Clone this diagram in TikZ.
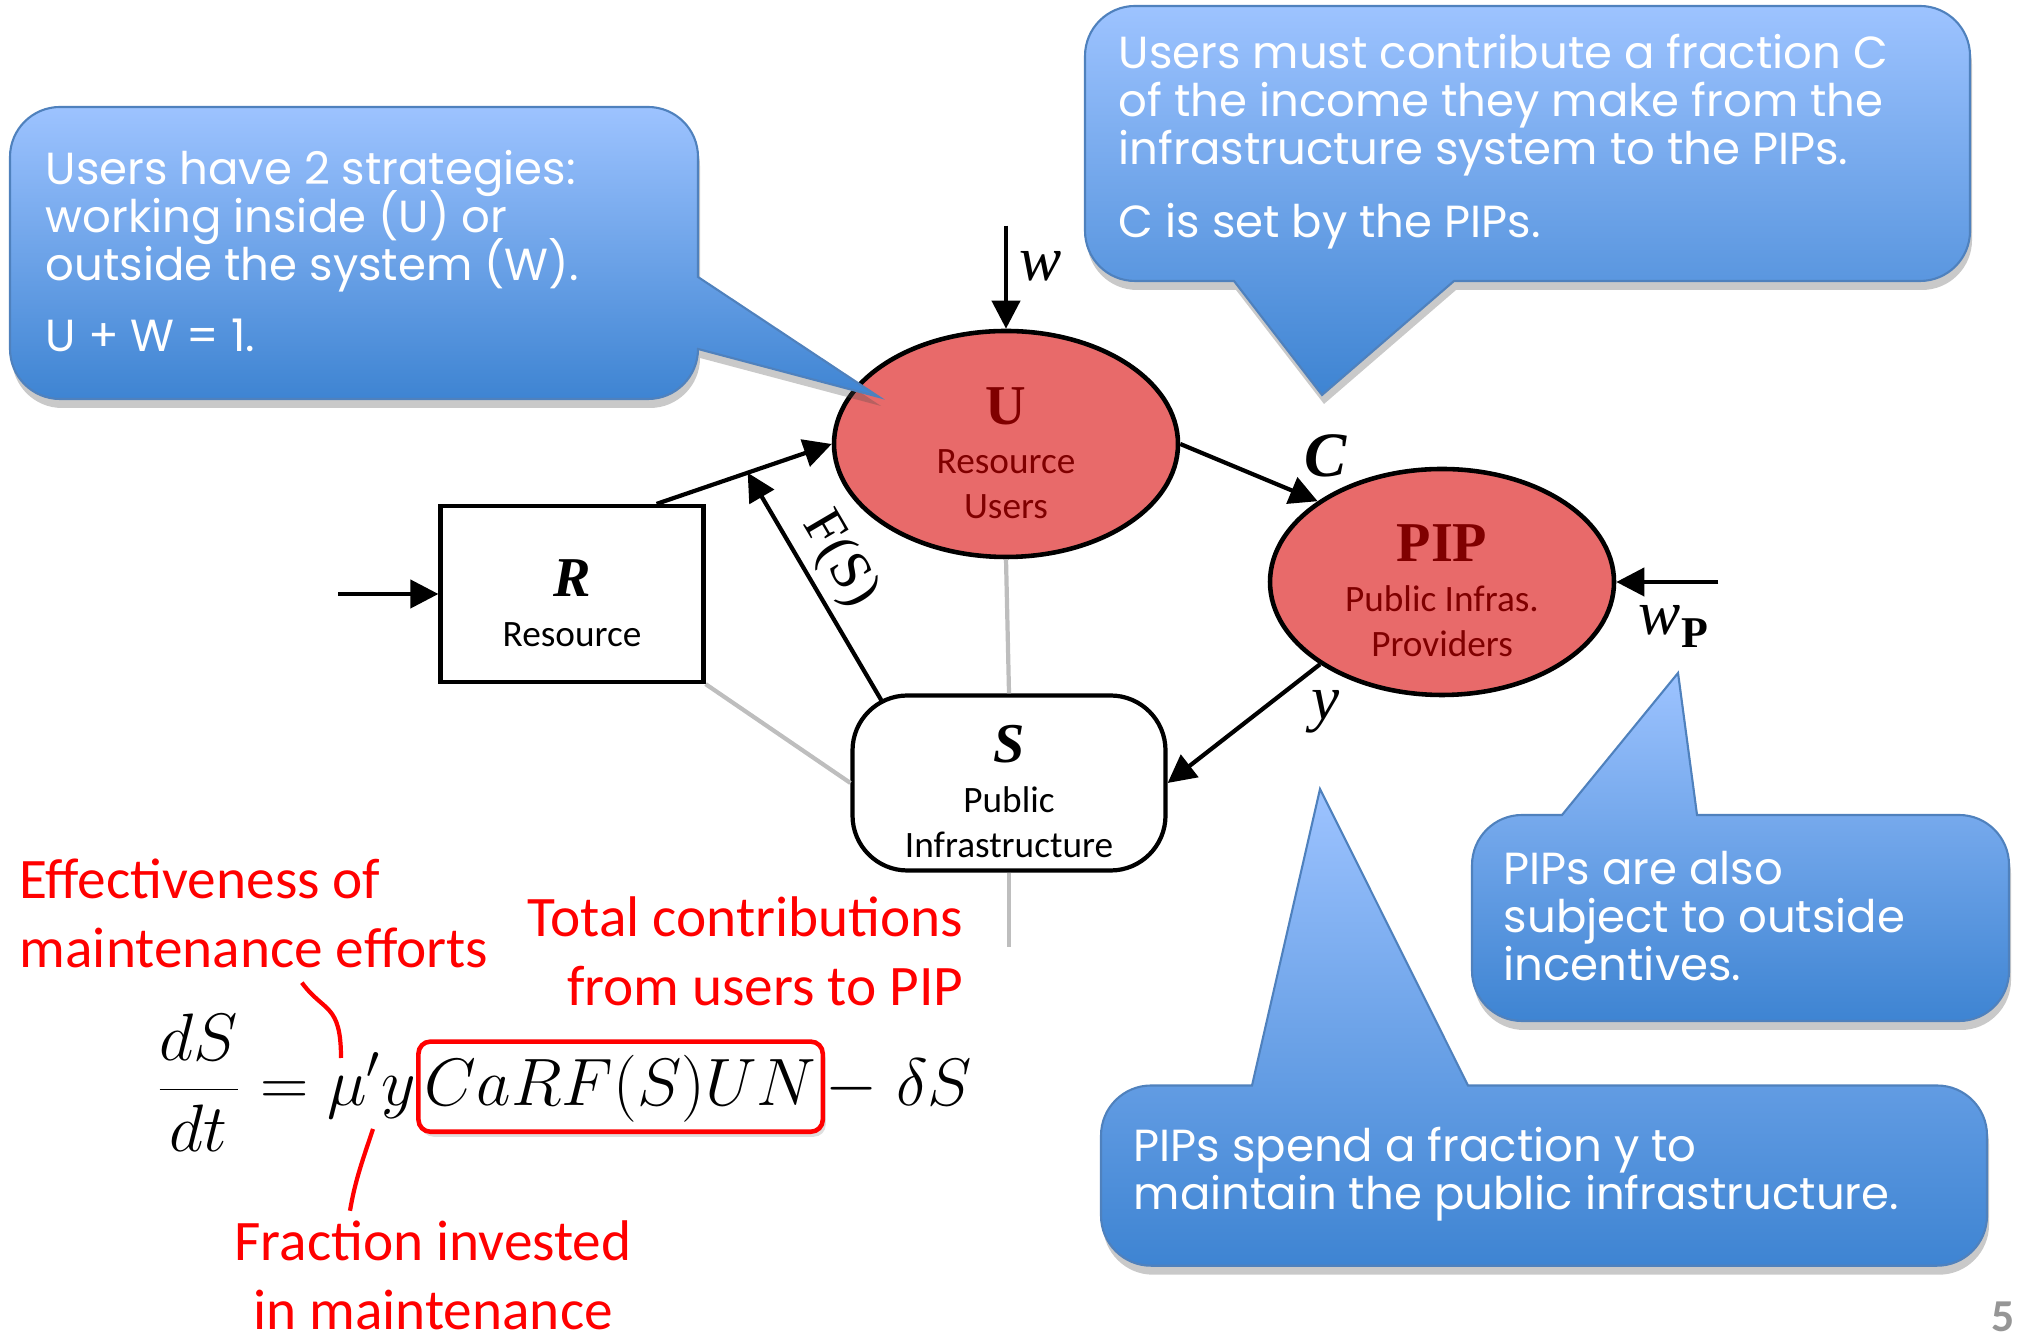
\documentclass[tikz,border=0pt]{standalone}
\usepackage{fontspec}
\usepackage{tikz}
\usetikzlibrary{shapes.geometric, arrows.meta, positioning, calc, shadows}
\newfontfamily\calibri{Carlito}
\newfontfamily\handfont{Poppins}
\newfontfamily\timesfont{Liberation Serif}
\definecolor{cBubTop}{RGB}{157,195,255}
\definecolor{cBubBot}{RGB}{62,132,210}
\definecolor{cBubLine}{RGB}{79,129,189}
\definecolor{cUser}{RGB}{232,106,106}
\definecolor{cDark}{RGB}{128,0,0}
\definecolor{cGrey}{RGB}{190,190,190}
\definecolor{cNote}{RGB}{255,0,0}
\definecolor{cPage}{RGB}{150,150,150}
\newcommand{\entname}[1]{{\timesfont\bfseries\fontsize{16}{16}\selectfont\rule{0pt}{0.55cm}#1}}
\newcommand{\bubfont}{\handfont\fontsize{12.8}{13.66}\selectfont\lineskiplimit=-20pt\relax}
\tikzset{
	bubble/.style  ={top color=cBubTop, bottom color=cBubBot, draw=cBubLine, line width=0.6pt, drop shadow={shadow xshift=0.02cm, shadow yshift=-0.09cm, opacity=0.3, fill=black!70}},
	bubtext/.style ={anchor=west, align=left, text=white, font=\bubfont, inner sep=0pt},
	agent/.style   ={ellipse, draw=black, line width=1.3pt, fill=cUser, minimum width=3.44cm, minimum height=2.26cm, inner sep=0pt, align=center, text=cDark, font=\calibri\fontsize{10.6}{12.8}\selectfont},
	stock/.style   ={rectangle, draw=black, line width=1.2pt, fill=white, align=center, font=\calibri\fontsize{10.6}{12.8}\selectfont},
	flow/.style    ={-{Triangle[length=2.8mm, width=2.8mm]}, line width=1.2pt},
	faint/.style   ={cGrey, line width=1.2pt},
	lbl/.style     ={font=\timesfont\itshape\fontsize{18}{18}\selectfont},
	eq/.style      ={font=\huge, inner sep=0pt, scale=0.92},
	note/.style    ={text=cNote, inner sep=0pt, font=\calibri\fontsize{16.3}{19.6}\selectfont},
	noteline/.style={cNote, line width=1.2pt},
}
\begin{document}
\begin{tikzpicture}
	\useasboundingbox (0,0) rectangle (20.19,13.37);
	% system entities
	\node[agent] (U) at (10.06,8.93) {\entname{U}\\[0.04cm] Resource\\ Users};
	\node[agent] (PIP) at (14.42,7.55) {\entname{PIP}\\[0.05cm] Public Infras.\\ Providers};
	\node[stock, minimum width=2.63cm, minimum height=1.76cm] (R) at (5.72,7.43) {\entname{\itshape R}\\[0.05cm] Resource};
	\node[stock, rounded corners=0.55cm, minimum width=3.13cm, minimum height=1.75cm] (S) at (10.09,5.54) {\entname{\itshape S}\\[0.05cm] Public\\ Infrastructure};
	% grey links
	\coordinate (Sdown) at ($(S.south)+(0,-0.74)$);
	\draw[faint] (U.south) -- (S.north);
	\draw[faint] (S.south) -- (Sdown);
	\draw[faint] (R.south east) -- (S.west);
	% flows
	\coordinate (Rin) at ($(R.west)+(-1.0,0)$);
	\coordinate (RU) at ($(R.north east)+(-0.49,0)$);
	\coordinate (RUmid) at ($(RU)!0.52!(U.west)$);
	\coordinate (wU) at ($(U.north)+(0,1.03)$);
	\coordinate (wP) at ($(PIP.east)+(1.02,0)$);
	\draw[flow] (Rin) -- (R.west);
	\draw[flow] (RU) -- (U.west);
	\draw[flow] ($(S.north west)+(0.31,-0.07)$) -- node[pos=0.54, sloped, above, inner sep=2pt, font=\timesfont\fontsize{16}{16}\selectfont] (lblF) {F(S)} (RUmid);
	\draw[flow] (U.east) -- (PIP.147) node[lbl, pos=1, above=0.1cm, xshift=0.08cm, font=\timesfont\bfseries\itshape\fontsize{18}{18}\selectfont] (lblC) {C};
	\draw[flow] (PIP.214) -- (S.east) node[lbl, pos=0, below=0.12cm, xshift=0.06cm] (lblY) {y};
	\draw[flow] (wU) -- (U.north) node[lbl, pos=0.39, right] (lblW) {w};
	\draw[flow] (wP) -- (PIP.east) node[lbl, pos=0.44, below=0.1cm] (lblWP) {w\kern0.5pt\raisebox{-0.13cm}{\upshape\bfseries\fontsize{12.5}{12.5}\selectfont P}};
	% callouts
	\shade[bubble] (6.98,10.60) -- (8.79,9.40) -- (6.98,9.88) arc[start angle=0, end angle=-90, radius=0.5] -- (0.60,9.38) arc[start angle=270, end angle=180, radius=0.5] -- (0.10,11.80) arc[start angle=180, end angle=90, radius=0.5] -- (6.48,12.30) arc[start angle=90, end angle=0, radius=0.5] -- cycle;
	\shade[bubble] (14.54,10.56) -- (13.22,9.42) -- (12.34,10.56) -- (11.35,10.56) arc[start angle=270, end angle=180, radius=0.5] -- (10.85,12.81) arc[start angle=180, end angle=90, radius=0.5] -- (19.20,13.31) arc[start angle=90, end angle=0, radius=0.5] -- (19.70,11.06) arc[start angle=0, end angle=-90, radius=0.5] -- cycle;
	\shade[bubble] (15.62,5.22) -- (16.78,6.64) -- (16.97,5.22) -- (19.59,5.22) arc[start angle=90, end angle=0, radius=0.5] -- (20.09,3.66) arc[start angle=0, end angle=-90, radius=0.5] -- (15.22,3.16) arc[start angle=270, end angle=180, radius=0.5] -- (14.72,4.72) arc[start angle=180, end angle=90, radius=0.5] -- cycle;
	\shade[bubble] (12.52,2.515) -- (13.20,5.48) -- (14.68,2.515) -- (19.37,2.515) arc[start angle=90, end angle=0, radius=0.5] -- (19.87,1.213) arc[start angle=0, end angle=-90, radius=0.5] -- (11.51,0.713) arc[start angle=270, end angle=180, radius=0.5] -- (11.01,2.015) arc[start angle=180, end angle=90, radius=0.5] -- cycle;
	\node[bubtext] (noteStrat) at (0.45,10.86) {Users have 2 strategies:\\ working inside (U) or\\ outside the system (W).\\[0.23cm] U + W = 1.};
	\node[bubtext] (noteContrib) at (11.18,11.955) {Users must contribute a fraction C\\ of the income they make from the\\ infrastructure system to the PIPs.\\[0.25cm] C is set by the PIPs.};
	\node[bubtext] (noteOutside) at (15.03,4.205) {PIPs are also\\ subject to outside\\ incentives.};
	\node[bubtext] (noteSpend) at (11.33,1.63) {PIPs spend a fraction y to\\ maintain the public infrastructure.};
	% maintenance equation
	\node[eq, anchor=base west] (eqL) at (1.55,2.31) {$\displaystyle\frac{dS}{dt}=\mu' y$};
	\node[eq, anchor=base west, draw=cNote, line width=1.3pt, rounded corners=0.12cm, inner xsep=2pt, inner ysep=0.1cm, text height=0.6cm, text depth=0.18cm, drop shadow={opacity=0.25, shadow xshift=0.03cm, shadow yshift=-0.05cm}, fill=white] (eqBox) at (eqL.base east) {$CaRF(S)UN$};
	\node[eq, anchor=base west] (eqR) at (eqBox.base east) {$-\;\delta S$};
	% red annotations
	\node[note, align=left, anchor=west] (effect) at (0.19,4.235) {Effectiveness of\\ maintenance efforts};
	\node[note, align=right, anchor=east] (total) at (9.64,3.86) {Total contributions\\ from users to PIP};
	\node[note, align=center] (frac) at (4.33,0.62) {Fraction invested\\ in maintenance};
	\coordinate (muTop) at (3.41,2.79);
	\coordinate (muBot) at (3.73,2.08);
	\draw[noteline] ([xshift=0.48cm, yshift=-0.14cm]effect.south) .. controls +(0.22,-0.3) and +(0,0.55) .. (muTop);
	\draw[noteline] (muBot) .. controls +(-0.1,-0.3) and +(0.05,0.3) .. ([xshift=-0.83cm, yshift=0.09cm]frac.north);
	\node[font=\calibri\bfseries\fontsize{13}{13}\selectfont, text=cPage, anchor=south east, inner sep=0pt] (pageNo) at (20.15,0.04) {5};
\end{tikzpicture}
\end{document}
